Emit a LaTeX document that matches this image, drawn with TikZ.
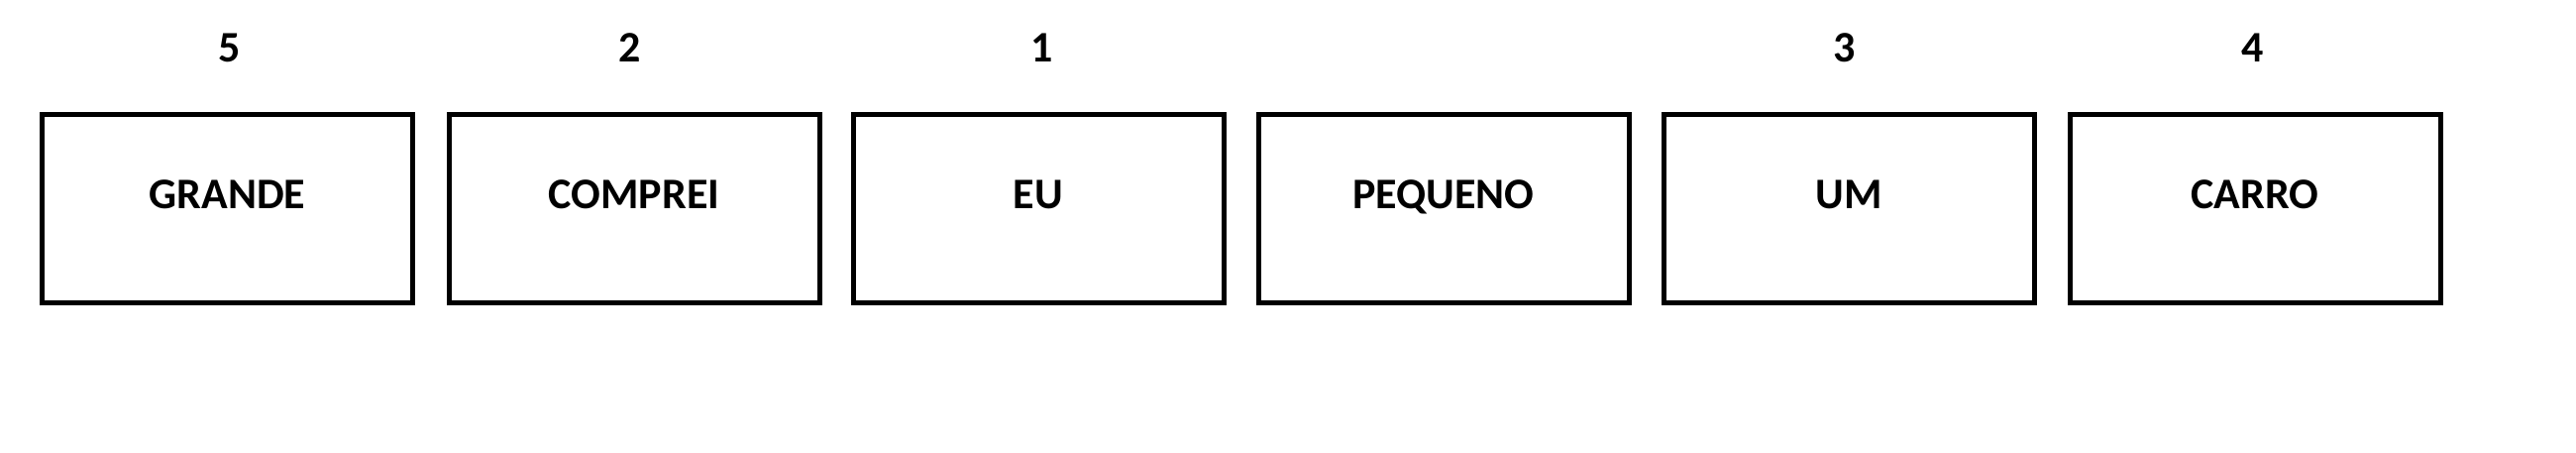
\documentclass[tikz,border=0pt]{standalone}
\usepackage{fontspec}
\setmainfont{Carlito}
\tikzset{
  wordbox/.style={draw=black, line width=2.5pt, fill=white, minimum width=187pt, minimum height=95pt,
    inner sep=0pt, text height=14pt, text depth=14pt, font=\fontsize{22}{26}\selectfont\bfseries},
  numlabel/.style={anchor=base, inner sep=0pt, font=\fontsize{22}{26}\selectfont\bfseries}
}
\begin{document}
\begin{tikzpicture}[x=0.5pt, y=-0.5pt]
  \useasboundingbox[fill=white] (0,0) rectangle (2600,456);
  \node[wordbox] (grande)  at (229.5,210.5) {GRANDE};
  \node[wordbox] (comprei) at (640,210.5) {COMPREI};
  \node[wordbox] (eu)      at (1048,210.5) {EU};
  \node[wordbox] (pequeno) at (1457,210.5) {PEQUENO};
  \node[wordbox] (um)      at (1866,210.5) {UM};
  \node[wordbox] (carro)   at (2276,210.5) {CARRO};
  \node[numlabel] (n5) at (232,62) {5};
  \node[numlabel] (n2) at (636,62) {2};
  \node[numlabel] (n1) at (1052,62) {1};
  \node[numlabel] (n3) at (1862,62) {3};
  \node[numlabel] (n4) at (2274,62) {4};
\end{tikzpicture}
\end{document}
